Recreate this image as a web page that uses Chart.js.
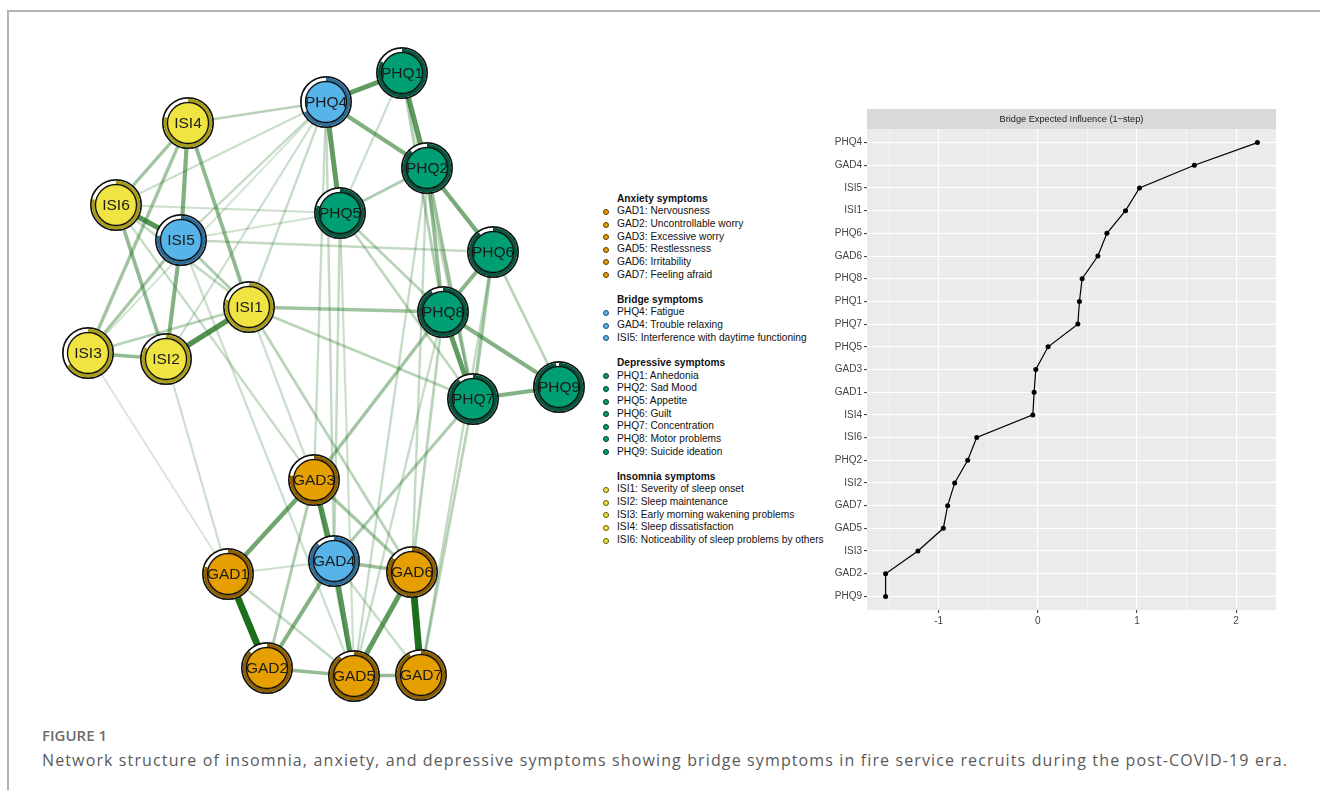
<!DOCTYPE html>
<html>
<head>
<meta charset="utf-8">
<script src="https://cdn.jsdelivr.net/npm/chart.js@4.4.1/dist/chart.umd.min.js"></script>
<style>
  html, body { margin: 0; padding: 0; background: #fff; }
  body { width: 1320px; height: 790px; position: relative; overflow: hidden; font-family: "Liberation Sans", Arial, sans-serif; }
  #frame { position: absolute; left: 7px; top: 10px; right: 0; bottom: 0; border-top: 2px solid #b4b4b4; border-left: 2px solid #b4b4b4; }
  #net { position: absolute; left: 0; top: 0; }
  #bei { position: absolute; left: 800px; top: 95px; }
  #legend { position: absolute; left: 617px; top: 192.7px; font-size: 10.2px; line-height: 12.65px; color: #111; white-space: nowrap; }
  #legend .row { position: relative; height: 12.65px; }
  #legend .head { font-weight: bold; }
  #legend .dot { position: absolute; left: -14.5px; top: 3.6px; width: 4px; height: 4px; border-radius: 50%; border: 1.2px solid #333; }
  #figno { position: absolute; left: 42px; top: 727px; font-family: "Open Sans", sans-serif; font-size: 15px; font-weight: 600; line-height: 16px; color: #6b6b6b; }
  #caption { position: absolute; left: 42px; top: 749px; font-family: "Open Sans", sans-serif; font-size: 16px; line-height: 22px; color: #5a5a5a; white-space: nowrap; }
</style>
</head>
<body>
<div id="frame"></div>
<canvas id="net" width="600" height="720"></canvas>
<div id="legend"></div>
<canvas id="bei" width="500" height="537"></canvas>
<div id="figno">FIGURE 1</div>
<div id="caption">Network structure of insomnia, anxiety, and depressive symptoms showing bridge symptoms in fire service recruits during the post-COVID-19 era.</div>

<script>
// ---------- network: nodes ----------
const nodeNames   = ['GAD1','GAD2','GAD3','GAD4','GAD5','GAD6','GAD7',
                     'PHQ1','PHQ2','PHQ4','PHQ5','PHQ6','PHQ7','PHQ8','PHQ9',
                     'ISI1','ISI2','ISI3','ISI4','ISI5','ISI6'];
const nodeGroup   = ['anx','anx','anx','bridge','anx','anx','anx',
                     'dep','dep','bridge','dep','dep','dep','dep','dep',
                     'ins','ins','ins','ins','bridge','ins'];
// layout coordinates (spring layout, in plot units)
const nodeX       = [228, 267, 314, 334, 354, 412, 421,
                     402, 427, 326, 340, 493, 473, 443, 559,
                     249, 166,  88, 188, 181, 116];
const nodeY       = [574, 668, 480, 561, 676, 572, 675,
                      73, 168, 102, 213, 252, 399, 312, 387,
                     307, 359, 353, 123, 240, 205];
// predictability (share of ring filled)
const nodePredict = [0.80, 0.87, 0.78, 0.88, 0.90, 0.85, 0.92,
                     0.83, 0.88, 0.68, 0.80, 0.90, 0.90, 0.92, 0.98,
                     0.80, 0.83, 0.66, 0.79, 0.78, 0.79];

// ---------- network: edges ----------
const edgeFrom = ['GAD1','GAD6','GAD3','GAD4','GAD6','GAD3','GAD4','GAD2','GAD5','GAD4','GAD3','GAD3','GAD1','GAD3','GAD1','GAD4',
                  'ISI1','ISI5','ISI4','ISI4','ISI5','ISI6','ISI2','ISI4','ISI4','ISI5','ISI5','ISI6','ISI3',
                  'PHQ4','PHQ1','PHQ4','PHQ4','PHQ2','PHQ8','PHQ6','PHQ8','PHQ7','PHQ2','PHQ2','PHQ1','PHQ6','PHQ6','PHQ5','PHQ5','PHQ5','PHQ1','PHQ1',
                  'ISI1','ISI1','ISI4','ISI5','ISI1','ISI6','ISI2','ISI3','ISI6','ISI5','ISI5',
                  'GAD3','GAD4','GAD4','GAD4','GAD6','GAD6','GAD5','GAD7','GAD7','GAD5','GAD3','GAD5',
                  'ISI1','ISI2','ISI3','ISI6','ISI5','ISI1'];
const edgeTo   = ['GAD2','GAD7','GAD4','GAD5','GAD5','GAD1','GAD2','GAD5','GAD7','GAD6','GAD6','GAD2','GAD5','GAD5','GAD4','GAD7',
                  'ISI2','ISI6','ISI5','ISI1','ISI2','ISI2','ISI3','ISI6','ISI3','ISI3','ISI1','ISI1','ISI1',
                  'PHQ1','PHQ2','PHQ5','PHQ2','PHQ6','PHQ7','PHQ8','PHQ9','PHQ9','PHQ8','PHQ7','PHQ8','PHQ7','PHQ9','PHQ2','PHQ8','PHQ7','PHQ5','PHQ7',
                  'PHQ8','PHQ7','PHQ4','PHQ4','PHQ4','PHQ4','PHQ4','PHQ4','PHQ5','PHQ6','PHQ5',
                  'PHQ8','PHQ7','PHQ4','PHQ5','PHQ8','PHQ2','PHQ2','PHQ7','PHQ6','PHQ5','PHQ4','PHQ8',
                  'GAD6','GAD1','GAD1','GAD3','GAD5','GAD3'];
const edgeWeight = [0.85, 0.85, 0.60, 0.58, 0.55, 0.48, 0.40, 0.33, 0.33, 0.30, 0.26, 0.22, 0.14, 0.16, 0.10, 0.12,
                    0.62, 0.60, 0.42, 0.36, 0.40, 0.34, 0.34, 0.28, 0.28, 0.25, 0.22, 0.14, 0.18,
                    0.55, 0.55, 0.55, 0.42, 0.45, 0.55, 0.38, 0.40, 0.40, 0.33, 0.31, 0.20, 0.28, 0.18, 0.22, 0.18, 0.16, 0.10, 0.12,
                    0.28, 0.18, 0.18, 0.13, 0.12, 0.10, 0.10, 0.06, 0.10, 0.13, 0.08,
                    0.28, 0.23, 0.13, 0.13, 0.18, 0.13, 0.12, 0.18, 0.13, 0.10, 0.12, 0.12,
                    0.18, 0.10, 0.05, 0.12, 0.10, 0.10];

// ---------- legend ----------
const legendTitles = ['Anxiety symptoms','Bridge symptoms','Depressive symptoms','Insomnia symptoms'];
const legendKeys   = ['anx','bridge','dep','ins'];
const legendItems  = [
  ['GAD1: Nervousness','GAD2: Uncontrollable worry','GAD3: Excessive worry','GAD5: Restlessness','GAD6: Irritability','GAD7: Feeling afraid'],
  ['PHQ4: Fatigue','GAD4: Trouble relaxing','ISI5: Interference with daytime functioning'],
  ['PHQ1: Anhedonia','PHQ2: Sad Mood','PHQ5: Appetite','PHQ6: Guilt','PHQ7: Concentration','PHQ8: Motor problems','PHQ9: Suicide ideation'],
  ['ISI1: Severity of sleep onset','ISI2: Sleep maintenance','ISI3: Early morning wakening problems','ISI4: Sleep dissatisfaction','ISI6: Noticeability of sleep problems by others']
];

// ---------- bridge expected influence ----------
const beiNodes  = ['PHQ4','GAD4','ISI5','ISI1','PHQ6','GAD6','PHQ8','PHQ1','PHQ7','PHQ5','GAD3',
                   'GAD1','ISI4','ISI6','PHQ2','ISI2','GAD7','GAD5','ISI3','GAD2','PHQ9'];
const beiValues = [2.215, 1.579, 1.026, 0.885, 0.697, 0.606, 0.447, 0.420, 0.404, 0.104, -0.020,
                   -0.037, -0.050, -0.616, -0.707, -0.838, -0.909, -0.953, -1.209, -1.535, -1.535];
const beiTicks  = [-1.5, -1, -0.5, 0, 0.5, 1, 1.5, 2];

// ---------- styling ----------
const groupStyle = {
  anx:    { fill: '#E69F00', ring: '#8d5f00', dot: '#E69F00', dotBorder: '#5c3f00' },
  bridge: { fill: '#56B4E9', ring: '#2c6e99', dot: '#56B4E9', dotBorder: '#1f4f6e' },
  dep:    { fill: '#009E73', ring: '#07563f', dot: '#009E73', dotBorder: '#0b3b2c' },
  ins:    { fill: '#F0E442', ring: '#a89c1d', dot: '#F0E442', dotBorder: '#5e5810' }
};
const NODE_R = 25;
const RING_R = 22.5;
const INNER_R = 20.5;

// legend markup
(function buildLegend() {
  const box = document.getElementById('legend');
  legendTitles.forEach((title, g) => {
    if (g > 0) { const gap = document.createElement('div'); gap.className = 'row'; box.appendChild(gap); }
    const h = document.createElement('div'); h.className = 'row head'; h.textContent = title; box.appendChild(h);
    const st = groupStyle[legendKeys[g]];
    legendItems[g].forEach(txt => {
      const r = document.createElement('div'); r.className = 'row'; r.textContent = txt;
      const d = document.createElement('span'); d.className = 'dot';
      d.style.background = st.dot; d.style.borderColor = st.dotBorder;
      r.appendChild(d); box.appendChild(r);
    });
  });
})();

// stretch the caption line to the full text column
(function fitCaption() {
  const el = document.getElementById('caption');
  const target = 1246;
  const n = el.textContent.length;
  const w = el.getBoundingClientRect().width;
  el.style.letterSpacing = ((target - w) / n).toFixed(3) + 'px';
})();

// ---------- network chart ----------
const idx = name => nodeNames.indexOf(name);
function edgeColor(w) {
  const a = Math.min(1, 0.12 + 1.05 * w);
  return 'rgba(28,112,28,' + a.toFixed(3) + ')';
}
const edgeSets = edgeFrom.map((f, k) => {
  const a = idx(f), b = idx(edgeTo[k]), w = edgeWeight[k];
  return {
    data: [{ x: nodeX[a], y: nodeY[a] }, { x: nodeX[b], y: nodeY[b] }],
    showLine: true,
    borderColor: edgeColor(w),
    borderWidth: 1.6 + 6.2 * w,
    borderCapStyle: 'butt',
    pointRadius: 0,
    order: 10 + (1 - w)
  };
});
const nodeSet = {
  data: nodeNames.map((n, i) => ({ x: nodeX[i], y: nodeY[i] })),
  pointRadius: NODE_R,
  pointBackgroundColor: nodeGroup.map(g => groupStyle[g].fill),
  pointBorderColor: '#111',
  pointBorderWidth: 2,
  showLine: false,
  order: 0
};

const nodeDecor = {
  id: 'nodeDecor',
  afterDatasetsDraw(chart) {
    const ctx = chart.ctx;
    const meta = chart.getDatasetMeta(chart.data.datasets.length - 1);
    meta.data.forEach((pt, i) => {
      const x = pt.x, y = pt.y, st = groupStyle[nodeGroup[i]];
      ctx.save();
      ctx.lineWidth = 3.6;
      ctx.strokeStyle = '#ffffff';
      ctx.beginPath(); ctx.arc(x, y, RING_R, 0, Math.PI * 2); ctx.stroke();
      ctx.strokeStyle = st.ring;
      ctx.beginPath(); ctx.arc(x, y, RING_R, -Math.PI / 2, -Math.PI / 2 + Math.PI * 2 * nodePredict[i]); ctx.stroke();
      ctx.lineWidth = 1.3;
      ctx.strokeStyle = '#111';
      ctx.beginPath(); ctx.arc(x, y, INNER_R, 0, Math.PI * 2); ctx.stroke();
      ctx.fillStyle = '#1b1b1b';
      ctx.font = '15.5px "Liberation Sans", Arial, sans-serif';
      ctx.textAlign = 'center';
      ctx.textBaseline = 'middle';
      ctx.fillText(nodeNames[i], x, y + 1);
      ctx.restore();
    });
  }
};

new Chart(document.getElementById('net'), {
  type: 'scatter',
  data: { datasets: [...edgeSets, nodeSet] },
  options: {
    responsive: false,
    animation: false,
    events: [],
    layout: { padding: 0, autoPadding: false },
    plugins: { legend: { display: false }, tooltip: { enabled: false } },
    scales: {
      x: { type: 'linear', min: 0, max: 600, display: false },
      y: { type: 'linear', min: 0, max: 720, reverse: true, display: false }
    }
  },
  plugins: [nodeDecor]
});

// ---------- bridge expected influence chart ----------
const NARROW = '"Liberation Sans Narrow", "Liberation Sans", Arial, sans-serif';
const panelBg = {
  id: 'panelBg',
  beforeDraw(chart) {
    const { ctx, chartArea: a } = chart;
    ctx.save();
    ctx.fillStyle = '#ebebeb';
    ctx.fillRect(a.left, a.top, a.right - a.left, a.bottom - a.top);
    ctx.fillStyle = '#d9d9d9';
    ctx.fillRect(a.left, a.top - 20, a.right - a.left, 20);
    ctx.fillStyle = '#1a1a1a';
    ctx.font = '9.2px ' + NARROW;
    ctx.textAlign = 'center';
    ctx.textBaseline = 'middle';
    ctx.fillText('Bridge Expected Influence (1\u2212step)', (a.left + a.right) / 2, a.top - 10);
    ctx.restore();
  }
};
const isMajor = v => Number.isInteger(v);

new Chart(document.getElementById('bei'), {
  type: 'scatter',
  data: {
    datasets: [{
      data: beiValues.map((v, i) => ({ x: v, y: i + 1 })),
      showLine: true,
      borderColor: '#000',
      borderWidth: 1.2,
      backgroundColor: '#000',
      pointRadius: 2.5,
      pointBorderWidth: 0
    }]
  },
  options: {
    responsive: false,
    animation: false,
    events: [],
    layout: { padding: { top: 34, right: 24, left: 0, bottom: 0 }, autoPadding: false },
    plugins: { legend: { display: false }, tooltip: { enabled: false } },
    scales: {
      x: {
        type: 'linear',
        min: -1.7225, max: 2.4025,
        afterBuildTicks: s => { s.ticks = beiTicks.map(v => ({ value: v })); },
        afterFit: s => { s.height = 22; },
        border: { display: false },
        grid: {
          color: '#ffffff',
          lineWidth: c => isMajor(c.tick.value) ? 1.1 : 0.55,
          tickColor: c => isMajor(c.tick.value) ? '#444' : 'rgba(0,0,0,0)',
          tickLength: 3
        },
        ticks: {
          callback: v => isMajor(v) ? String(v) : '',
          color: '#444',
          font: { family: NARROW, size: 10 },
          padding: 2,
          maxRotation: 0,
          autoSkip: false
        }
      },
      y: {
        type: 'linear',
        min: 0.4, max: 21.6,
        reverse: true,
        afterBuildTicks: s => { s.ticks = beiNodes.map((n, i) => ({ value: i + 1 })); },
        afterFit: s => { s.width = 67; },
        border: { display: false },
        grid: { color: '#ffffff', lineWidth: 1.1, tickColor: '#444', tickLength: 3 },
        ticks: {
          callback: v => beiNodes[v - 1],
          color: '#444',
          font: { family: NARROW, size: 10 },
          padding: 2,
          autoSkip: false
        }
      }
    }
  },
  plugins: [panelBg]
});
</script>
</body>
</html>
